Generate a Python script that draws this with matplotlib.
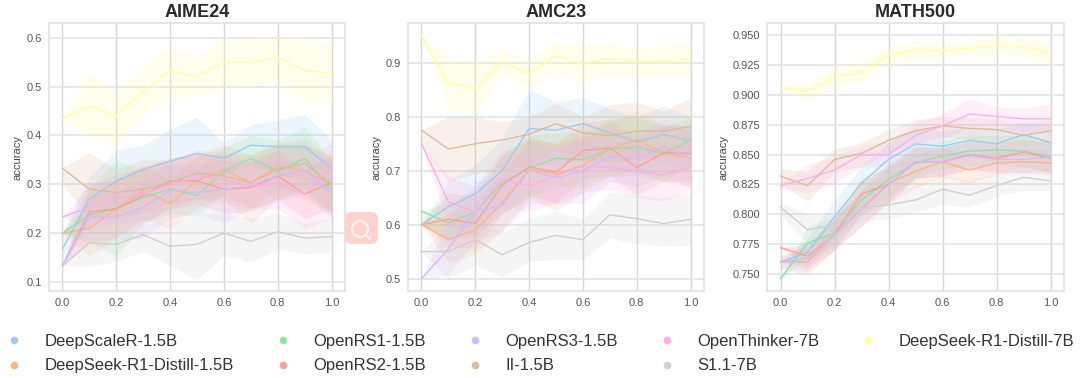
import matplotlib
matplotlib.use('Agg')
import matplotlib.pyplot as plt
from matplotlib.lines import Line2D
from matplotlib.patches import FancyBboxPatch, Circle

plt.rcParams['font.family'] = ['Liberation Sans', 'DejaVu Sans']

xs = [0.0, 0.1, 0.2, 0.3, 0.4, 0.5, 0.6, 0.7, 0.8, 0.9, 1.0]

labels = ['DeepScaleR-1.5B', 'DeepSeek-R1-Distill-1.5B', 'OpenRS1-1.5B', 'OpenRS2-1.5B', 'OpenRS3-1.5B',
          'II-1.5B', 'OpenThinker-7B', 'S1.1-7B', 'DeepSeek-R1-Distill-7B']
colors = ['#a1c9f4', '#ffb482', '#8de5a1', '#ff9f9b', '#d0bbff', '#debb9b', '#fab0e4', '#cfcfcf', '#fffea3']

# AIME24
aime_scaler = [.167, .27, .307, .33, .347, .363, .353, .38, .377, .377, .333]
aime_scaler_lo = [.133, .22, .26, .28, .30, .31, .32, .34, .32, .31, .28]
aime_scaler_hi = [.20, .315, .37, .38, .413, .437, .385, .422, .432, .443, .39]
aime_ds15 = [.20, .21, .25, .287, .26, .307, .33, .303, .337, .327, .30]
aime_ds15_lo = [.2, .153, .19, .23, .21, .25, .28, .25, .29, .27, .24]
aime_ds15_hi = [.2, .27, .31, .34, .31, .36, .38, .36, .385, .38, .36]
aime_rs1 = [.20, .237, .25, .273, .29, .277, .327, .353, .327, .353, .29]
aime_rs1_lo = [.2, .18, .153, .22, .24, .235, .28, .30, .27, .29, .24]
aime_rs1_hi = [.2, .29, .35, .33, .34, .33, .375, .40, .39, .417, .35]
aime_rs2 = [.133, .243, .25, .277, .307, .307, .29, .293, .317, .28, .303]
aime_rs2_lo = [.133, .18, .19, .22, .25, .26, .24, .245, .27, .23, .25]
aime_rs2_hi = [.133, .30, .31, .335, .355, .36, .35, .345, .37, .33, .36]
aime_rs3 = [.133, .233, .233, .253, .287, .283, .29, .297, .317, .33, .283]
aime_rs3_lo = [.133, .185, .185, .19, .23, .24, .22, .25, .265, .28, .23]
aime_rs3_hi = [.133, .285, .285, .31, .345, .34, .35, .35, .37, .385, .34]
aime_ii = [.333, .29, .283, .29, .303, .323, .317, .303, .33, .343, .30]
aime_ii_lo = [.30, .23, .23, .24, .26, .27, .27, .22, .27, .29, .24]
aime_ii_hi = [.335, .365, .33, .35, .35, .37, .365, .36, .38, .395, .35]
aime_thinker = [.233, .253, .27, .28, .297, .317, .31, .297, .30, .28, .337]
aime_thinker_lo = [.233, .21, .22, .225, .25, .27, .26, .25, .25, .21, .23]
aime_thinker_hi = [.233, .30, .32, .335, .35, .365, .36, .345, .35, .35, .385]
aime_s1 = [.133, .18, .177, .197, .173, .177, .20, .183, .203, .19, .193]
aime_s1_lo = [.133, .132, .142, .163, .133, .105, .155, .14, .167, .158, .162]
aime_s1_hi = [.133, .185, .185, .22, .22, .24, .24, .23, .24, .22, .23]
aime_ds7 = [.433, .46, .44, .49, .533, .52, .55, .55, .56, .533, .527]
aime_ds7_lo = [.433, .40, .38, .44, .48, .48, .50, .50, .515, .465, .47]
aime_ds7_hi = [.433, .527, .49, .54, .583, .56, .597, .60, .603, .60, .583]

# AMC23
amc_scaler = [.60, .633, .657, .70, .778, .775, .787, .77, .753, .767, .755]
amc_scaler_lo = [.6, .58, .60, .64, .71, .71, .72, .70, .70, .71, .70]
amc_scaler_hi = [.6, .68, .71, .76, .85, .827, .835, .815, .80, .82, .80]
amc_ds15 = [.60, .573, .59, .64, .703, .693, .71, .74, .757, .733, .723]
amc_ds15_lo = [.6, .53, .545, .59, .65, .625, .66, .69, .70, .68, .67]
amc_ds15_hi = [.6, .62, .64, .70, .76, .75, .765, .79, .81, .785, .775]
amc_rs1 = [.625, .603, .623, .677, .705, .723, .72, .74, .744, .731, .757]
amc_rs1_lo = [.60, .57, .58, .62, .65, .67, .67, .69, .69, .68, .71]
amc_rs1_hi = [.625, .64, .665, .73, .765, .77, .77, .795, .80, .78, .80]
amc_rs2 = [.60, .61, .602, .673, .707, .697, .737, .742, .706, .733, .732]
amc_rs2_lo = [.6, .56, .555, .62, .655, .64, .685, .69, .655, .68, .68]
amc_rs2_hi = [.6, .66, .65, .73, .76, .75, .79, .795, .76, .785, .785]
amc_rs3 = [.50, .555, .625, .635, .70, .687, .70, .727, .722, .745, .723]
amc_rs3_lo = [.5, .505, .57, .585, .64, .64, .64, .68, .67, .69, .67]
amc_rs3_hi = [.5, .61, .68, .69, .755, .74, .76, .78, .77, .795, .775]
amc_ii = [.775, .74, .75, .757, .767, .787, .77, .765, .773, .773, .782]
amc_ii_lo = [.75, .68, .695, .70, .71, .74, .72, .715, .72, .725, .73]
amc_ii_hi = [.775, .80, .80, .79, .80, .824, .80, .822, .827, .81, .835]
amc_thinker = [.75, .642, .623, .685, .672, .69, .708, .707, .698, .692, .707]
amc_thinker_lo = [.75, .60, .575, .63, .625, .64, .66, .665, .65, .643, .665]
amc_thinker_hi = [.75, .69, .67, .74, .725, .74, .76, .755, .75, .74, .755]
amc_s1 = [.55, .55, .572, .544, .567, .58, .572, .618, .611, .602, .61]
amc_s1_lo = [.55, .50, .525, .503, .532, .535, .535, .575, .565, .56, .562]
amc_s1_hi = [.55, .60, .62, .585, .61, .625, .61, .66, .655, .65, .66]
amc_ds7 = [.95, .862, .852, .902, .88, .913, .897, .908, .902, .902, .907]
amc_ds7_lo = [.95, .815, .805, .878, .855, .885, .862, .88, .875, .875, .878]
amc_ds7_hi = [.95, .91, .90, .927, .905, .94, .932, .935, .925, .93, .937]

# MATH500
math_scaler = [.76, .768, .798, .826, .846, .859, .857, .862, .859, .867, .86]
math_scaler_lo = [.76, .755, .78, .805, .83, .845, .845, .85, .845, .852, .845]
math_scaler_hi = [.76, .78, .812, .84, .86, .872, .87, .873, .872, .878, .875]
math_ds15 = [.76, .76, .783, .805, .826, .836, .844, .837, .843, .844, .843]
math_ds15_lo = [.755, .749, .77, .79, .81, .822, .832, .826, .834, .835, .833]
math_ds15_hi = [.765, .772, .795, .82, .84, .85, .856, .85, .855, .855, .855]
math_rs1 = [.746, .776, .784, .812, .829, .843, .849, .853, .854, .853, .848]
math_rs1_lo = [.746, .763, .772, .80, .815, .83, .838, .84, .842, .84, .835]
math_rs1_hi = [.746, .79, .797, .826, .842, .857, .862, .866, .866, .866, .862]
math_rs2 = [.772, .765, .783, .817, .825, .844, .844, .85, .847, .852, .847]
math_rs2_lo = [.772, .755, .77, .80, .81, .83, .832, .838, .835, .84, .835]
math_rs2_hi = [.772, .775, .797, .83, .84, .856, .856, .862, .86, .863, .86]
math_rs3 = [.76, .763, .783, .804, .825, .844, .844, .849, .846, .846, .848]
math_rs3_lo = [.755, .752, .77, .79, .81, .83, .832, .838, .835, .835, .836]
math_rs3_hi = [.765, .775, .796, .82, .84, .857, .856, .861, .858, .858, .86]
math_ii = [.832, .824, .846, .851, .862, .87, .874, .872, .871, .866, .87]
math_ii_lo = [.825, .811, .835, .84, .852, .86, .865, .863, .86, .857, .86]
math_ii_hi = [.838, .836, .855, .86, .871, .879, .882, .881, .88, .876, .88]
math_thinker = [.824, .83, .837, .85, .85, .866, .874, .884, .882, .88, .88]
math_thinker_lo = [.822, .818, .826, .84, .84, .856, .863, .873, .87, .869, .868]
math_thinker_hi = [.826, .842, .848, .858, .861, .877, .884, .897, .89, .889, .892]
math_s1 = [.806, .787, .791, .805, .808, .812, .821, .816, .824, .831, .828]
math_s1_lo = [.80, .775, .78, .795, .796, .802, .808, .806, .815, .82, .82]
math_s1_hi = [.81, .80, .80, .815, .82, .824, .833, .828, .835, .842, .838]
math_ds7 = [.906, .903, .915, .919, .933, .938, .937, .939, .941, .94, .936]
math_ds7_lo = [.906, .896, .907, .91, .924, .93, .932, .934, .934, .932, .927]
math_ds7_hi = [.906, .91, .923, .928, .941, .945, .944, .945, .95, .948, .945]

aime_series = [(aime_scaler, aime_scaler_lo, aime_scaler_hi), (aime_ds15, aime_ds15_lo, aime_ds15_hi),
               (aime_rs1, aime_rs1_lo, aime_rs1_hi), (aime_rs2, aime_rs2_lo, aime_rs2_hi),
               (aime_rs3, aime_rs3_lo, aime_rs3_hi), (aime_ii, aime_ii_lo, aime_ii_hi),
               (aime_thinker, aime_thinker_lo, aime_thinker_hi), (aime_s1, aime_s1_lo, aime_s1_hi),
               (aime_ds7, aime_ds7_lo, aime_ds7_hi)]
amc_series = [(amc_scaler, amc_scaler_lo, amc_scaler_hi), (amc_ds15, amc_ds15_lo, amc_ds15_hi),
              (amc_rs1, amc_rs1_lo, amc_rs1_hi), (amc_rs2, amc_rs2_lo, amc_rs2_hi),
              (amc_rs3, amc_rs3_lo, amc_rs3_hi), (amc_ii, amc_ii_lo, amc_ii_hi),
              (amc_thinker, amc_thinker_lo, amc_thinker_hi), (amc_s1, amc_s1_lo, amc_s1_hi),
              (amc_ds7, amc_ds7_lo, amc_ds7_hi)]
math_series = [(math_scaler, math_scaler_lo, math_scaler_hi), (math_ds15, math_ds15_lo, math_ds15_hi),
               (math_rs1, math_rs1_lo, math_rs1_hi), (math_rs2, math_rs2_lo, math_rs2_hi),
               (math_rs3, math_rs3_lo, math_rs3_hi), (math_ii, math_ii_lo, math_ii_hi),
               (math_thinker, math_thinker_lo, math_thinker_hi), (math_s1, math_s1_lo, math_s1_hi),
               (math_ds7, math_ds7_lo, math_ds7_hi)]

W, H = 1080, 378
fig = plt.figure(figsize=(W / 100, H / 100), dpi=100)


def add_panel(left, right, title, series, ylim, yticks, yfmt):
    ax = fig.add_axes([left / W, 1 - 291 / H, (right - left) / W, 268 / H])
    for (mean, lo, hi), c in zip(series, colors):
        ax.fill_between(xs, lo, hi, color=c, alpha=0.2, linewidth=0)
        ax.plot(xs, mean, color=c, linewidth=1.0)
    ax.set_xlim(-0.05, 1.05)
    ax.set_ylim(*ylim)
    ax.set_xticks([0.0, 0.2, 0.4, 0.6, 0.8, 1.0])
    ax.set_yticks(yticks)
    ax.set_yticklabels([yfmt % t for t in yticks])
    ax.set_axisbelow(True)
    ax.grid(axis='x', color='#d6d6d6', linewidth=1.0)
    ax.grid(axis='y', color='#e4e4e4', linewidth=1.2)
    for s in ax.spines.values():
        s.set_color('#e2e2e2')
        s.set_linewidth(1.2)
    ax.tick_params(length=0, labelsize=8, labelcolor='#555555', pad=5)
    ax.set_ylabel('accuracy', fontsize=8, color='#444444', labelpad=3)
    ax.set_title(title, fontsize=13, fontweight='bold', color='#2a2a2a', pad=4)
    return ax


add_panel(49, 345, 'AIME24', aime_series, (0.0816, 0.63), [0.1, 0.2, 0.3, 0.4, 0.5, 0.6], '%.1f')
add_panel(408, 704, 'AMC23', amc_series, (0.477, 0.9735), [0.5, 0.6, 0.7, 0.8, 0.9], '%.1f')
add_panel(767, 1064, 'MATH500', math_series, (0.7357, 0.9603),
          [0.75, 0.775, 0.8, 0.825, 0.85, 0.875, 0.9, 0.925, 0.95], '%.3f')

handles = [Line2D([], [], linestyle='none', marker='o', markersize=5.5, color=c, markeredgewidth=0) for c in colors]
fig.legend(handles, labels, ncol=5, loc='upper left', bbox_to_anchor=(6 / W, 1 - 334 / H), frameon=False,
           fontsize=12, handlelength=1, handletextpad=1.32, columnspacing=2.44, labelspacing=0.56,
           borderpad=0, borderaxespad=0, labelcolor='#333333')

# magnifier badge sitting on top of the picture
badge = FancyBboxPatch((345, H - 244), 33, 32, boxstyle='round,pad=0,rounding_size=7', transform=None,
                       facecolor='#ffd2ce', edgecolor='none', zorder=10)
fig.add_artist(badge)
ring = Circle((360, H - 229), 8, transform=None, facecolor='none', edgecolor='#fff4f2', linewidth=1.4, zorder=11)
fig.add_artist(ring)
fig.add_artist(Line2D([366, 370], [H - 235, H - 239], transform=None, color='#fff4f2', linewidth=1.4, zorder=11))

fig.savefig('out.png', dpi=100)
